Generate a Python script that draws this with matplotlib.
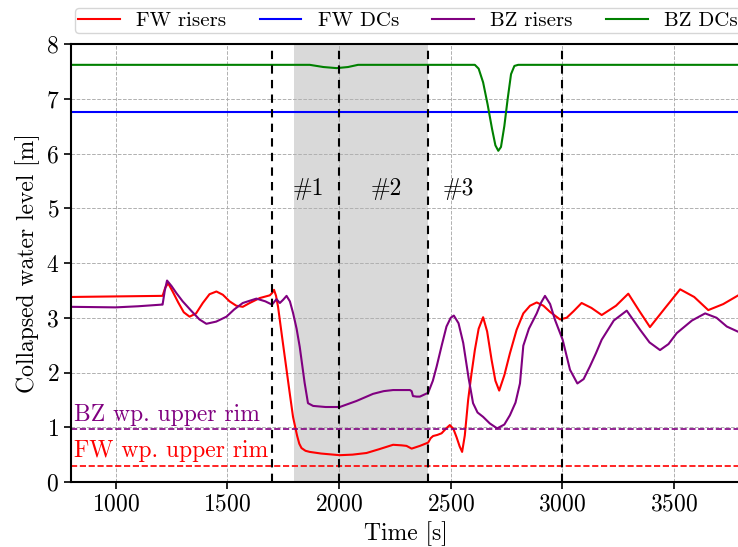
import matplotlib
matplotlib.use("Agg")
import matplotlib.pyplot as plt

plt.rcParams['font.family'] = ['cmr10', 'DejaVu Serif']
plt.rcParams['mathtext.fontset'] = 'cm'
plt.rcParams['axes.formatter.use_mathtext'] = True

# FW risers (red)
fw_r_t = [800, 1000, 1205, 1210, 1222, 1235, 1255, 1280, 1305, 1331, 1360, 1390, 1420, 1451, 1480,
          1510, 1540, 1569, 1600, 1645, 1690, 1700, 1709, 1718, 1727, 1745, 1765, 1780, 1794, 1812,
          1822, 1832, 1850, 1869, 1920, 2003, 2060, 2123, 2180, 2242, 2280, 2302, 2325, 2362, 2399,
          2410, 2421, 2440, 2459, 2480, 2496, 2512, 2526, 2540, 2551, 2563, 2578, 2592, 2608, 2625,
          2645, 2663, 2683, 2700, 2717, 2740, 2765, 2795, 2825, 2855, 2885, 2915, 2944, 2989, 3019,
          3050, 3086, 3130, 3176, 3240, 3295, 3345, 3392, 3460, 3527, 3590, 3653, 3720, 3800]
fw_r_y = [3.38, 3.39, 3.40, 3.40, 3.55, 3.63, 3.48, 3.28, 3.10, 3.02, 3.08, 3.27, 3.43, 3.48, 3.42,
          3.30, 3.22, 3.20, 3.27, 3.36, 3.41, 3.45, 3.51, 3.40, 3.20, 2.65, 2.05, 1.60, 1.19, 0.85,
          0.70, 0.62, 0.57, 0.55, 0.52, 0.49, 0.50, 0.53, 0.60, 0.68, 0.67, 0.66, 0.61, 0.66, 0.72,
          0.80, 0.84, 0.86, 0.89, 0.98, 1.04, 0.97, 0.82, 0.65, 0.55, 0.85, 1.50, 1.95, 2.41, 2.80,
          3.01, 2.75, 2.23, 1.85, 1.67, 1.95, 2.35, 2.78, 3.08, 3.22, 3.28, 3.22, 3.11, 2.97, 3.00,
          3.12, 3.27, 3.18, 3.05, 3.22, 3.44, 3.12, 2.83, 3.18, 3.52, 3.38, 3.14, 3.25, 3.44]

# BZ risers (purple)
bz_r_t = [800, 1000, 1100, 1205, 1210, 1220, 1230, 1250, 1272, 1300, 1340, 1375, 1406, 1450, 1496,
          1530, 1569, 1630, 1670, 1700, 1720, 1735, 1750, 1765, 1780, 1794, 1810, 1824, 1846, 1861,
          1884, 1940, 2003, 2078, 2152, 2200, 2242, 2317, 2325, 2331, 2347, 2362, 2399, 2420, 2437,
          2460, 2481, 2500, 2514, 2535, 2556, 2580, 2600, 2620, 2645, 2675, 2708, 2740, 2765, 2790,
          2810, 2825, 2850, 2885, 2905, 2922, 2945, 2967, 3001, 3034, 3067, 3095, 3123, 3150, 3176,
          3230, 3288, 3348, 3390, 3437, 3475, 3512, 3580, 3639, 3690, 3736, 3800]
bz_r_y = [3.20, 3.19, 3.21, 3.24, 3.24, 3.50, 3.68, 3.58, 3.45, 3.30, 3.12, 2.97, 2.89, 2.93, 3.02,
          3.15, 3.27, 3.35, 3.30, 3.24, 3.34, 3.27, 3.33, 3.40, 3.30, 3.09, 2.80, 2.47, 1.81, 1.44,
          1.39, 1.37, 1.37, 1.48, 1.61, 1.66, 1.68, 1.68, 1.66, 1.57, 1.56, 1.56, 1.63, 1.85, 2.11,
          2.50, 2.84, 3.00, 3.04, 2.90, 2.54, 1.90, 1.44, 1.27, 1.19, 1.07, 0.98, 1.05, 1.22, 1.45,
          1.80, 2.49, 2.80, 3.08, 3.28, 3.40, 3.25, 2.96, 2.60, 2.05, 1.80, 1.88, 2.11, 2.35, 2.60,
          2.95, 3.13, 2.78, 2.55, 2.41, 2.52, 2.72, 2.95, 3.08, 3.00, 2.84, 2.72]

# FW DCs (blue)
fw_dc_t = [800, 3800]
fw_dc_y = [6.75, 6.75]

# BZ DCs (green)
bz_dc_t = [800, 1869, 1930, 1989, 2040, 2085, 2608, 2625, 2645, 2665, 2685, 2700, 2713, 2725, 2740,
           2755, 2770, 2785, 2802, 3800]
bz_dc_y = [7.62, 7.62, 7.58, 7.56, 7.58, 7.62, 7.62, 7.55, 7.30, 6.90, 6.45, 6.15, 6.05, 6.12, 6.50,
           7.00, 7.45, 7.60, 7.62, 7.62]

rim_bz = 0.97
rim_fw = 0.30
phase_lines = [1700, 2000, 2400, 3000]
span = (1800, 2400)
phase_labels = ['#1', '#2', '#3']
phase_label_x = [1864, 2214, 2533]

fig = plt.figure(figsize=(7.38, 5.47), dpi=100)
ax = fig.add_axes([0.0962, 0.1188, 0.908, 0.8007])

ax.axvspan(span[0], span[1], color='#d9d9d9', zorder=0, lw=0)
ax.plot(fw_r_t, fw_r_y, color='red', lw=1.5, label='FW risers')
ax.plot(fw_dc_t, fw_dc_y, color='blue', lw=1.5, label='FW DCs')
ax.plot(bz_r_t, bz_r_y, color='purple', lw=1.5, label='BZ risers')
ax.plot(bz_dc_t, bz_dc_y, color='green', lw=1.5, label='BZ DCs')

ax.axhline(rim_bz, color='purple', ls='--', lw=1.2)
ax.axhline(rim_fw, color='red', ls='--', lw=1.2)
ax.text(815, 1.11, 'BZ wp. upper rim', color='purple', fontsize=17, va='baseline')
ax.text(815, 0.46, 'FW wp. upper rim', color='red', fontsize=17, va='baseline')

for xv in phase_lines:
    ax.axvline(xv, color='black', ls='--', lw=1.5, dashes=(4, 3))
for lab, xv in zip(phase_labels, phase_label_x):
    ax.text(xv, 5.36, lab, fontsize=17, ha='center', va='center')

ax.set_xlim(800, 3800)
ax.set_ylim(0, 8)
ax.set_xticks([1000, 1500, 2000, 2500, 3000, 3500])
ax.grid(True, ls='--', color='#b0b0b0', lw=0.7)
ax.set_axisbelow(True)
ax.tick_params(labelsize=17, direction='out', length=5, width=1.2)
for s in ax.spines.values():
    s.set_linewidth(1.5)
ax.set_xlabel('Time [s]', fontsize=17)
ax.set_ylabel('Collapsed water level [m]', fontsize=17)

ax.legend(loc='lower left', bbox_to_anchor=(0.006, 1.025, 0.994, 0.1), mode='expand',
          ncol=4, fontsize=15, frameon=True, borderaxespad=0, handlelength=2.0,
          borderpad=0.15)

fig.savefig('out.png', dpi=100)
